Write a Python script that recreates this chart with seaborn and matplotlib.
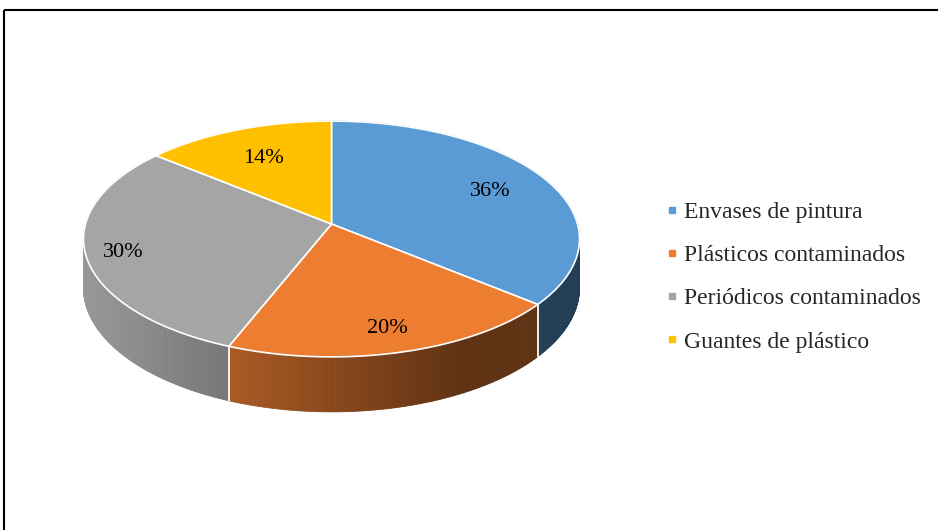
import numpy as np
import matplotlib
matplotlib.use("Agg")
import matplotlib.pyplot as plt
import seaborn as sns
from matplotlib.patches import Polygon
from matplotlib.lines import Line2D

# Data
categories = ["Envases de pintura", "Plásticos contaminados",
              "Periódicos contaminados", "Guantes de plástico"]
shares = [36, 20, 30, 14]
colors = ["#5B9BD5", "#ED7D31", "#A5A5A5", "#FFC000"]

sns.set_theme(style="white")
plt.rcParams["font.family"] = ["Liberation Serif", "DejaVu Serif"]

W, H = 939, 530
fig = plt.figure(figsize=(W / 100, H / 100), dpi=100)
ax = fig.add_axes([0, 0, 1, 1])
ax.set_xlim(0, W)
ax.set_ylim(H, 0)
ax.axis("off")

# Perspective disc layout (pixel units)
CX, CY = 331.5, 224.0
RX, RY = 246.0, 116.0
K = 0.127
DEPTH = 48.0
LABEL_R = [0.74, 0.815, 0.85, 0.70]
LABEL_DY = 3.0


def project(theta_deg, r=1.0, drop=0.0):
    t = np.radians(theta_deg)
    x = r * np.sin(t)
    y = r * np.cos(t)
    s = 1.0 / (1.0 + K * y)
    return CX + RX * x * s, CY - RY * y * s + DEPTH * drop * s


def shade(hex_color, px):
    f = np.interp(px, [85, 460], [0.92, 0.40])
    rgb = np.array(matplotlib.colors.to_rgb(hex_color))
    return tuple(np.clip(rgb * f, 0, 1))


total = float(sum(shares))
bounds = np.concatenate([[0.0], np.cumsum(shares) / total * 360.0])

# Side wall, drawn far-to-near as thin shaded strips
strips = []
for i, c in enumerate(colors):
    a0, a1 = bounds[i], bounds[i + 1]
    n = max(int((a1 - a0) / 0.5), 2)
    th = np.linspace(a0, a1, n + 1)
    for j in range(n):
        ta, tb = th[j], th[j + 1]
        xa, ya = project(ta)
        xb, yb = project(tb)
        xa2, ya2 = project(ta, drop=1)
        xb2, yb2 = project(tb, drop=1)
        col = shade(c, 0.5 * (xa + xb))
        depth = np.cos(np.radians(0.5 * (ta + tb)))
        strips.append((depth, [(xa, ya), (xb, yb), (xb2, yb2), (xa2, ya2)], col))

strips.sort(key=lambda s: -s[0])
for _, pts, col in strips:
    ax.add_patch(Polygon(pts, closed=True, facecolor=col, edgecolor=col,
                         linewidth=0.6, zorder=1))

# White seams on the side wall at slice boundaries facing the viewer
for b in bounds[:-1]:
    if np.cos(np.radians(b)) < 0:
        x0, y0 = project(b)
        x1, y1 = project(b, drop=1)
        ax.plot([x0, x1], [y0, y1], color="white", lw=1.3, zorder=2,
                solid_capstyle="butt")

# Top face
for i, c in enumerate(colors):
    th = np.linspace(bounds[i], bounds[i + 1], 200)
    xs, ys = project(th)
    pts = [(CX, CY)] + list(zip(xs, ys))
    ax.add_patch(Polygon(pts, closed=True, facecolor=c, edgecolor="white",
                         linewidth=1.2, joinstyle="round", zorder=3))

# Percentage labels
for i, v in enumerate(shares):
    mid = 0.5 * (bounds[i] + bounds[i + 1])
    lx, ly = project(mid, r=LABEL_R[i])
    ax.text(lx, ly + LABEL_DY, f"{v}%", ha="center", va="center", fontsize=16,
            color="black", zorder=4)

# Legend
handles = [Line2D([], [], marker="s", linestyle="", color=c, markersize=4.5)
           for c in colors]
ax.legend(handles, categories, loc="center left", bbox_to_anchor=(666, 277),
          bbox_transform=ax.transData, frameon=False, fontsize=17,
          handlelength=0.5, handletextpad=0.25, labelspacing=0.92,
          borderpad=0, borderaxespad=0)

# Outer frame
ax.plot([3.5, 938], [10, 10], color="black", lw=1.5, solid_capstyle="butt")
ax.plot([4.2, 4.2], [10, H], color="black", lw=1.5, solid_capstyle="butt")

fig.savefig("out.png", dpi=100)
